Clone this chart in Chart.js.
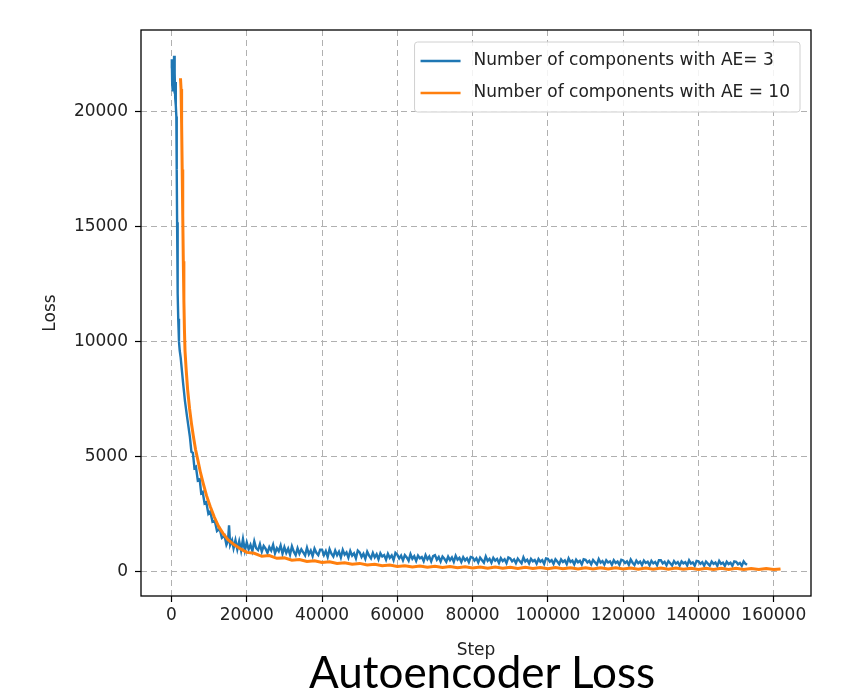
<!DOCTYPE html>
<html>
<head>
<meta charset="utf-8">
<script src="https://cdn.jsdelivr.net/npm/chart.js@4.4.1/dist/chart.umd.min.js"></script>
<style>
  body { margin: 0; background: #fff; }
  #wrap { position: relative; width: 864px; height: 694px; }
  #caption {
    position: absolute; left: 309px; top: 649px;
    font: 44px Lato, "Open Sans", sans-serif; line-height: 44px;
    color: #000; white-space: nowrap;
  }
</style>
</head>
<body>
<div id="wrap">
  <canvas id="loss-chart" width="864" height="694"></canvas>
  <div id="caption">Autoencoder Loss</div>
</div>
<script>
const blueLabel = 'Number of components with AE= 3';
const orangeLabel = 'Number of components with AE = 10';

const blueSteps = [
  0, 100, 200, 300, 400, 500, 600, 700, 800, 900, 1000, 1100, 1200, 1300, 1400, 1500,
  1600, 1700, 1800, 2000, 2200, 2450, 2800, 3100, 3600, 4150, 4900, 5300, 5700, 6100,
  6500, 7000, 7500, 7900, 8300, 8800, 9250, 9800, 10300, 10900, 11500, 12100, 12800,
  13400, 14100, 14600, 15000, 15300, 15600, 16100, 16500, 17000, 17500, 18000, 18500,
  19000, 19500,
  20000, 20500, 21000, 21500, 22000, 22500, 23000, 23500, 24000, 24500, 25000, 25500, 26000, 26500, 27000, 27500, 28000, 28500, 29000, 29500,
  30000, 30500, 31000, 31500, 32000, 32500, 33000, 33500, 34000, 34500, 35000, 35500, 36000, 36500, 37000, 37500, 38000, 38500, 39000, 39500,
  40000, 40500, 41000, 41500, 42000, 42500, 43000, 43500, 44000, 44500, 45000, 45500, 46000, 46500, 47000, 47500, 48000, 48500, 49000, 49500,
  50000, 50500, 51000, 51500, 52000, 52500, 53000, 53500, 54000, 54500, 55000, 55500, 56000, 56500, 57000, 57500, 58000, 58500, 59000, 59500,
  60000, 60500, 61000, 61500, 62000, 62500, 63000, 63500, 64000, 64500, 65000, 65500, 66000, 66500, 67000, 67500, 68000, 68500, 69000, 69500,
  70000, 70500, 71000, 71500, 72000, 72500, 73000, 73500, 74000, 74500, 75000, 75500, 76000, 76500, 77000, 77500, 78000, 78500, 79000, 79500,
  80000, 80500, 81000, 81500, 82000, 82500, 83000, 83500, 84000, 84500, 85000, 85500, 86000, 86500, 87000, 87500, 88000, 88500, 89000, 89500,
  90000, 90500, 91000, 91500, 92000, 92500, 93000, 93500, 94000, 94500, 95000, 95500, 96000, 96500, 97000, 97500, 98000, 98500, 99000, 99500,
  100000, 100500, 101000, 101500, 102000, 102500, 103000, 103500, 104000, 104500, 105000, 105500, 106000, 106500, 107000, 107500, 108000, 108500, 109000, 109500,
  110000, 110500, 111000, 111500, 112000, 112500, 113000, 113500, 114000, 114500, 115000, 115500, 116000, 116500, 117000, 117500, 118000, 118500, 119000, 119500,
  120000, 120500, 121000, 121500, 122000, 122500, 123000, 123500, 124000, 124500, 125000, 125500, 126000, 126500, 127000, 127500, 128000, 128500, 129000, 129500,
  130000, 130500, 131000, 131500, 132000, 132500, 133000, 133500, 134000, 134500, 135000, 135500, 136000, 136500, 137000, 137500, 138000, 138500, 139000, 139500,
  140000, 140500, 141000, 141500, 142000, 142500, 143000, 143500, 144000, 144500, 145000, 145500, 146000, 146500, 147000, 147500, 148000, 148500, 149000, 149500,
  150000, 150500, 151000, 151500, 152000, 152500, 152900
];
const blueLoss = [
  21900, 22300, 21200, 22100, 20900, 22200, 21400, 22450, 20800, 21700, 20600, 21300, 20300, 19800, 17500, 15200,
  13400, 12100, 11000, 10000, 9600, 9300, 8700, 8180, 7400, 6720, 5850, 5200, 5150, 4500,
  4550, 3950, 4000, 3400, 3450, 2950, 3000, 2500, 2600, 2150, 2200, 1750, 1850,
  1450, 1550, 1150, 1300, 2000, 1150, 1350, 1000, 1350, 950, 1300, 900,
  1400, 900,
  1250, 950, 1150, 880, 1300, 1000, 920, 1180, 850, 1100, 980, 800, 1050, 900, 1150, 780, 1000, 870, 1120, 760,
  1050, 800, 980, 720, 1080, 850, 700, 1000, 760, 950, 820, 690, 1020, 740, 900, 660, 980, 800, 700, 940,
  940, 700, 880, 620, 960, 760, 640, 900, 700, 850, 600, 930, 720, 820, 590, 880, 680, 780, 560, 900,
  820, 620, 760, 540, 850, 680, 560, 800, 600, 740, 520, 780, 640, 700, 500, 760, 580, 690, 480, 800,
  720, 560, 680, 470, 700, 600, 460, 740, 540, 650, 450, 680, 560, 620, 440, 700, 520, 640, 430, 660,
  700, 500, 620, 420, 640, 540, 410, 630, 480, 600, 410, 670, 500, 580, 400, 610, 470, 560, 390, 620,
  600, 460, 560, 380, 590, 480, 370, 640, 450, 540, 370, 580, 460, 530, 360, 570, 440, 520, 350, 600,
  560, 430, 510, 350, 550, 440, 340, 600, 420, 500, 340, 540, 430, 490, 330, 530, 410, 480, 320, 560,
  540, 410, 480, 320, 520, 420, 310, 510, 400, 470, 310, 560, 400, 460, 300, 500, 390, 450, 300, 520,
  500, 380, 450, 300, 490, 390, 290, 530, 370, 440, 290, 480, 380, 430, 280, 480, 360, 420, 280, 500,
  470, 360, 430, 280, 510, 370, 270, 460, 350, 420, 270, 460, 360, 410, 260, 450, 340, 400, 260, 480,
  480, 340, 410, 260, 440, 350, 250, 440, 330, 400, 250, 430, 340, 390, 250, 470, 330, 380, 240, 450,
  430, 320, 390, 240, 420, 330, 240, 420, 320, 380, 230, 450, 320, 370, 230, 410, 310, 370, 230, 430,
  410, 300, 360, 230, 430, 320, 280
];

const orangeSteps = [
  2400, 2550, 2700, 2850, 3000, 3150, 3300, 3450, 3600, 3900, 4300, 4800, 5300, 5800,
  6400, 7000, 7700, 8400, 9300, 10300, 11400, 12500, 13700, 15000, 16700, 18500, 20000,
  22000, 24000, 26000, 28000, 30000, 32000, 34000, 36000, 38000, 40000,
  42000, 44000, 46000, 48000, 50000, 52000, 54000, 56000, 58000, 60000,
  62000, 64000, 66000, 68000, 70000, 72000, 74000, 76000, 78000, 80000,
  82000, 84000, 86000, 88000, 90000, 92000, 94000, 96000, 98000, 100000,
  102000, 104000, 106000, 108000, 110000, 112000, 114000, 116000, 118000, 120000,
  122000, 124000, 126000, 128000, 130000, 132000, 134000, 136000, 138000, 140000,
  142000, 144000, 146000, 148000, 150000, 152000, 154000, 156000, 158000, 160000, 161800
];
const orangeLoss = [
  21470, 21000, 19500, 17500, 15500, 13500, 11800, 10500, 9600, 8800, 7900, 7100, 6450, 5900,
  5300, 4850, 4300, 3850, 3300, 2820, 2350, 1950, 1650, 1375, 1150, 960, 820,
  780, 650, 680, 560, 580, 480, 510, 420, 450, 380,
  410, 340, 370, 300, 340, 270, 300, 240, 270, 210,
  240, 180, 230, 170, 210, 160, 200, 150, 190, 140,
  180, 130, 180, 130, 170, 120, 170, 120, 160, 110,
  160, 110, 150, 100, 150, 100, 150, 95, 145, 95,
  140, 90, 140, 90, 135, 85, 135, 85, 130, 80,
  130, 80, 125, 75, 125, 75, 120, 70, 120, 70, 100
];

const xTicks = [0, 20000, 40000, 60000, 80000, 100000, 120000, 140000, 160000];
const yTicks = [0, 5000, 10000, 15000, 20000];
const xRange = [-8090, 169890];
const yRange = [-1080, 23570];

const textFont = { family: '"DejaVu Sans", sans-serif', size: 17 };

const frame = {
  id: 'frame',
  afterDatasetsDraw(chart) {
    const { ctx, chartArea: a } = chart;
    ctx.save();
    ctx.strokeStyle = '#000';
    ctx.lineWidth = 1.3;
    ctx.strokeRect(a.left, a.top, a.right - a.left, a.bottom - a.top);
    ctx.restore();
  }
};

const insideLegend = {
  id: 'insideLegend',
  afterDraw(chart) {
    const { ctx, chartArea: a } = chart;
    const sets = chart.data.datasets;
    ctx.save();
    ctx.font = '17px "DejaVu Sans", sans-serif';
    const textW = Math.max(...sets.map((d) => ctx.measureText(d.label).width));
    const rowH = 32;
    const w = 6 + 40 + 13 + textW + 10;
    const h = rowH * sets.length + 6;
    const x = a.right - 11 - w;
    const y = a.top + 12;
    ctx.fillStyle = 'rgba(255,255,255,0.85)';
    ctx.strokeStyle = '#d0d0d0';
    ctx.lineWidth = 1;
    ctx.beginPath();
    ctx.roundRect(x, y, w, h, 3);
    ctx.fill();
    ctx.stroke();
    sets.forEach((d, i) => {
      const cy = y + 3 + rowH / 2 + i * rowH;
      ctx.strokeStyle = d.borderColor;
      ctx.lineWidth = 2.5;
      ctx.beginPath();
      ctx.moveTo(x + 6, cy);
      ctx.lineTo(x + 46, cy);
      ctx.stroke();
      ctx.fillStyle = '#222';
      ctx.textBaseline = 'middle';
      ctx.fillText(d.label, x + 59, cy);
    });
    ctx.restore();
  }
};

function keepTicks(list) {
  return (scale) => {
    scale.ticks = list.map((v) => ({ value: v }));
  };
}

new Chart(document.getElementById('loss-chart'), {
  type: 'line',
  data: {
    datasets: [
      {
        label: blueLabel,
        data: blueSteps.map((s, i) => ({ x: s, y: blueLoss[i] })),
        borderColor: '#1f77b4',
        borderWidth: 2.4,
        pointRadius: 0,
        tension: 0,
        order: 1,
      },
      {
        label: orangeLabel,
        data: orangeSteps.map((s, i) => ({ x: s, y: orangeLoss[i] })),
        borderColor: '#ff7f0e',
        borderWidth: 3,
        pointRadius: 0,
        tension: 0,
        order: 0,
      },
    ],
  },
  options: {
    responsive: false,
    animation: false,
    layout: { padding: { top: 30, right: 53, bottom: 0, left: 0 } },
    plugins: {
      legend: { display: false },
      tooltip: { enabled: false },
    },
    scales: {
      x: {
        type: 'linear',
        min: xRange[0],
        max: xRange[1],
        afterBuildTicks: keepTicks(xTicks),
        afterFit: (scale) => { scale.height = 98; },
        ticks: { color: '#222', font: textFont, padding: 3, maxRotation: 0, callback: (v) => String(v) },
        grid: { color: '#b0b0b0', lineWidth: 1, tickColor: '#000', tickLength: 6, tickWidth: 1.2 },
        border: { display: false, dash: [6, 4] },
        title: { display: true, text: 'Step', color: '#222', font: textFont, padding: { top: 0, bottom: 33 } },
      },
      y: {
        type: 'linear',
        min: yRange[0],
        max: yRange[1],
        afterBuildTicks: keepTicks(yTicks),
        afterFit: (scale) => { scale.width = 141; },
        ticks: { color: '#222', font: textFont, padding: 7, callback: (v) => String(v) },
        grid: { color: '#b0b0b0', lineWidth: 1, tickColor: '#000', tickLength: 6, tickWidth: 1.2 },
        border: { display: false, dash: [6, 4] },
        title: { display: true, text: 'Loss', color: '#222', font: textFont, padding: { top: 40, bottom: 0 } },
      },
    },
  },
  plugins: [frame, insideLegend],
});
</script>
</body>
</html>
